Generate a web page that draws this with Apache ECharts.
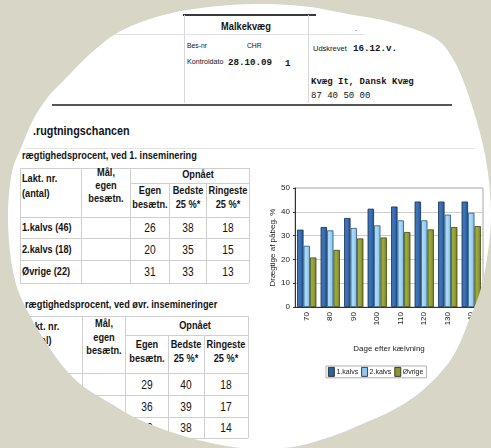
<!DOCTYPE html>
<html><head><meta charset="utf-8">
<script src="https://cdn.jsdelivr.net/npm/echarts@6/dist/echarts.min.js"></script>
<style>
html,body{margin:0;padding:0;width:491px;height:448px;overflow:hidden;background:#fff;}
#page{position:absolute;left:0;top:0;width:491px;height:448px;background:#fff;color:#141414;font-family:"Liberation Sans",Arial,sans-serif;filter:blur(0.3px);}
.t{position:absolute;white-space:nowrap;}
.ln{position:absolute;}
#chart{position:absolute;left:0;top:0;width:491px;height:448px;}
#mask{position:absolute;left:0;top:0;}
</style></head>
<body>
<div id="page">
  <div id="doc"></div>
  <div id="chart"></div>
  <svg id="mask" width="491" height="448"><path id="maskPath" fill="#d8d6c6" fill-rule="evenodd"/></svg>
</div>
<script>
// ---------- data ----------
const categories = ['70','80','90','100','110','120','130','140'];
const kalvs1 = [32.5,33.6,37.4,41.3,42.2,44.3,44.3,44.3];
const kalvs2 = [25.7,32.2,33.2,34.3,36.4,36.4,38.8,39.6];
const ovrige = [20.8,24.0,28.8,29.2,31.5,32.6,33.6,34.0];
const seriesNames = ['1.kalvs','2.kalvs','Øvrige'];
const yTicks = [0,10,20,30,40,50];

const t1Rows = ['1.kalvs (46)','2.kalvs (18)','Øvrige (22)'];
const t1Egen = [26,20,31];
const t1Bedste = [38,35,33];
const t1Ringeste = [18,15,13];

const t2Rows = ['1.kalvs','2.kalvs','Øvrige'];
const t2Egen = [29,36,40];
const t2Bedste = [40,39,38];
const t2Ringeste = [18,17,14];

// ---------- document (tables / header) ----------
const doc = document.getElementById('doc');
function txt(x, y, s, size, o){
  o = o || {};
  const k = o.sx || 1;
  const d = document.createElement('div');
  d.className = 't';
  d.textContent = s;
  d.style.fontSize = size + 'px';
  d.style.lineHeight = size + 'px';
  d.style.top = (y - size/2) + 'px';
  if (o.font) d.style.fontFamily = o.font;
  if (o.bold) d.style.fontWeight = 'bold';
  if (o.color) d.style.color = o.color;
  const a = o.align || 'left';
  if (a === 'left') { d.style.left = x + 'px'; d.style.transformOrigin='left center'; d.style.transform='scaleX('+k+')'; }
  else if (a === 'right') { d.style.right = (491 - x) + 'px'; d.style.transformOrigin='right center'; d.style.transform='scaleX('+k+')'; }
  else { d.style.left = x + 'px'; d.style.transformOrigin='center center'; d.style.transform = 'translateX(-50%) scaleX('+k+')'; }
  doc.appendChild(d);
}
function hline(x1, x2, y, w, c){
  const d = document.createElement('div'); d.className='ln';
  d.style.left=x1+'px'; d.style.width=(x2-x1)+'px'; d.style.top=(y-w/2)+'px'; d.style.height=w+'px'; d.style.background=c;
  doc.appendChild(d);
}
function vline(x, y1, y2, w, c){
  const d = document.createElement('div'); d.className='ln';
  d.style.left=(x-w/2)+'px'; d.style.width=w+'px'; d.style.top=y1+'px'; d.style.height=(y2-y1)+'px'; d.style.background=c;
  doc.appendChild(d);
}
const MONO = '"Liberation Mono","DejaVu Sans Mono",monospace';
const GRID = '#cfcfcf';
const NX = 0.8; // narrow-font squeeze

// header
hline(183, 316, 15, 2, '#3a3a3a');
vline(184, 15, 103, 1, '#d8d8d8');
vline(308, 15, 103, 1, '#d8d8d8');
hline(100, 365, 34, 1, '#e2e2e2');
txt(246, 26, 'Malkekvæg', 11, {bold:true, align:'center', sx:0.84});
txt(355, 29, '.', 8, {});
txt(187, 46, 'Bes-nr', 7.5, {sx:0.9});
txt(247, 46, 'CHR', 7.5, {sx:0.9});
txt(187, 62, 'Kontroldato', 7.5, {sx:0.95});
txt(228, 63, '28.10.09', 9.2, {font:MONO, bold:true});
txt(285, 64, '1', 9.2, {font:MONO, bold:true});
txt(313, 49, 'Udskrevet', 7.5, {});
txt(353, 49, '16.12.v.', 9.2, {font:MONO, bold:true});
txt(311, 82, 'Kvæg It, Dansk Kvæg', 9, {font:MONO, bold:true});
txt(311, 96, '87 40 50 00', 9, {font:MONO});
hline(52, 452, 105, 2.5, '#555');

// section title
txt(33, 131, '.rugtningschancen', 13.5, {bold:true, sx:NX});
hline(25, 475, 148, 1, '#e4e4e4');

function table(cfg){
  const c = cfg.cols, r = cfg.rows;
  const bot = r.lines[r.lines.length-1];
  hline(c[0], c[5], r.top, 1, GRID);
  hline(c[2], c[5], r.sub, 1, GRID);
  hline(c[0], c[5], r.head, 1, GRID);
  r.lines.forEach(y => hline(c[0], c[5], y, 1, GRID));
  vline(c[0], r.top, bot, 1, GRID);
  vline(c[1], r.top, bot, 1, GRID);
  vline(c[2], r.top, bot, 1, GRID);
  vline(c[3], r.sub, bot, 1, GRID);
  vline(c[4], r.sub, bot, 1, GRID);
  vline(c[5], r.top, bot, 1, GRID);
  const fs = 11.5;
  const H = {bold:true, sx:NX};
  txt(cfg.labelX, cfg.h.lakt1, 'Lakt. nr.', fs, H);
  txt(cfg.labelX, cfg.h.lakt2, '(antal)', fs, H);
  const m1 = (c[1]+c[2])/2;
  const HC = {bold:true, sx:NX, align:'center'};
  txt(m1, cfg.h.mal[0], 'Mål,', fs, HC);
  txt(m1, cfg.h.mal[1], 'egen', fs, HC);
  txt(m1, cfg.h.mal[2], 'besætn.', fs, HC);
  txt((c[2]+c[5])/2 + 8, cfg.h.opn, 'Opnået', fs, HC);
  txt((c[2]+c[3])/2, cfg.h.sub1, 'Egen', fs, HC);
  txt((c[2]+c[3])/2, cfg.h.sub2, 'besætn.', fs, HC);
  txt((c[3]+c[4])/2, cfg.h.sub1, 'Bedste', fs, HC);
  txt((c[3]+c[4])/2, cfg.h.sub2, '25 %*', fs, HC);
  txt((c[4]+c[5])/2, cfg.h.sub1, 'Ringeste', fs, HC);
  txt((c[4]+c[5])/2, cfg.h.sub2, '25 %*', fs, HC);
  cfg.labels.forEach((lab, i) => {
    const y = r.centers[i];
    txt(cfg.labelX, y, lab, fs, H);
    const N = {align:'center', sx:0.85};
    txt((c[2]+c[3])/2, y, String(cfg.egen[i]), fs+0.5, N);
    txt((c[3]+c[4])/2, y, String(cfg.bedste[i]), fs+0.5, N);
    txt((c[4]+c[5])/2, y, String(cfg.ringeste[i]), fs+0.5, N);
  });
}

txt(22, 156, 'rægtighedsprocent, ved 1. inseminering', 11.5, {bold:true, sx:NX});
table({
  cols:[20, 81, 130, 169, 206, 249],
  rows:{top:168, sub:183, head:217, lines:[238, 260, 283], centers:[228, 250, 272]},
  h:{lakt1:179, lakt2:194, mal:[173,186,199], opn:175, sub1:191, sub2:205},
  labelX:22, labels:t1Rows, egen:t1Egen, bedste:t1Bedste, ringeste:t1Ringeste
});

txt(25, 305, 'rægtighedsprocent, ved øvr. insemineringer', 11.5, {bold:true, sx:NX});
table({
  cols:[22, 82, 125, 168, 204, 248],
  rows:{top:316, sub:335, head:373, lines:[395, 417, 438], centers:[385, 407, 428]},
  h:{lakt1:327, lakt2:341, mal:[324,338,351], opn:326, sub1:345, sub2:359},
  labelX:24, labels:t2Rows, egen:t2Egen, bedste:t2Bedste, ringeste:t2Ringeste
});

// ---------- chart ----------
const chart = echarts.init(document.getElementById('chart'), null, {renderer:'canvas'});
function grad(a, b){
  return new echarts.graphic.LinearGradient(0,0,1,0,[{offset:0,color:a},{offset:0.45,color:a},{offset:1,color:b}]);
}
const styles = [
  {fill: grad('#3b73b8','#24528f'), border:'#18304f', legend:'#2d62a3'},
  {fill: grad('#a6d8f8','#7cb9e6'), border:'#2f5678', legend:'#8ec8f0'},
  {fill: grad('#9aa83a','#75822a'), border:'#3f4715', legend:'#8c982f'}
];
const values = [kalvs1, kalvs2, ovrige];
const FONT = '"Liberation Sans", Arial, sans-serif';
chart.setOption({
  animation:false,
  textStyle:{fontFamily:FONT},
  grid:{left:295, top:188, width:188, height:119, show:true, borderColor:'#a8a8a8', borderWidth:1, backgroundColor:'rgba(0,0,0,0)'},
  legend:{
    left:326, top:366, orient:'horizontal', itemWidth:6, itemHeight:9, itemGap:3,
    borderColor:'#b0b0b0', borderWidth:1, padding:[1,3,1,2], borderRadius:0,
    icon:'rect',
    textStyle:{fontSize:7, color:'#222', fontFamily:FONT, padding:[0,0,0,-3]},
    data: seriesNames.map((n,i)=>({name:n, itemStyle:{color:styles[i].legend, borderColor:'#1a1a1a', borderWidth:0.8}}))
  },
  xAxis:{
    type:'category', data:categories,
    axisLine:{lineStyle:{color:'#333', width:1}},
    axisTick:{show:false},
    axisLabel:{rotate:90, fontSize:8, color:'#222', margin:5, fontFamily:FONT},
    name:'Dage efter kælvning', nameLocation:'middle', nameGap:38,
    nameTextStyle:{fontSize:8, color:'#222', fontFamily:FONT}
  },
  yAxis:{
    type:'value', min:yTicks[0], max:yTicks[yTicks.length-1], interval:10,
    axisLine:{show:true, lineStyle:{color:'#333', width:1}},
    axisTick:{show:true, length:2, lineStyle:{color:'#333'}},
    splitLine:{show:true, lineStyle:{color:'#cdcdcd', width:1}},
    axisLabel:{fontSize:8, color:'#222', margin:5, fontFamily:FONT},
    name:'Drægtige af påbeg. %', nameLocation:'middle', nameGap:17,
    nameTextStyle:{fontSize:8, color:'#222', fontFamily:FONT}
  },
  series: seriesNames.map((n,i)=>({
    name:n, type:'bar', data:values[i], barGap:'0%', barCategoryGap:'18%',
    itemStyle:{color:styles[i].fill, borderColor:styles[i].border, borderWidth:0.8}
  }))
});

// ---------- photo vignette (page outline) ----------
const outline = [
  [187,10],[230,5],[270,4],[310,7],[343,13],[390,22],[433,37],[452,57],[466,88],[480,133],[488,173],
  [491,215],[488,252],[481,288],[470,318],[452,358],[423,390],[393,410],[360,425],[330,437],[298,446],[265,449],
  [233,447],[187,437],[140,420],[110,403],[84,387],[66,370],[51,350],[37,328],[25,306],[16,284],[10,252],[8,212],
  [12,172],[21,148],[33,120],[48,97],[67,77],[90,54],[117,33],[150,19]
];
function smooth(P){
  const n = P.length;
  let d = 'M' + P[0][0] + ' ' + P[0][1];
  for (let i=0;i<n;i++){
    const p0=P[(i-1+n)%n], p1=P[i], p2=P[(i+1)%n], p3=P[(i+2)%n];
    const c1=[p1[0]+(p2[0]-p0[0])/6, p1[1]+(p2[1]-p0[1])/6];
    const c2=[p2[0]-(p3[0]-p1[0])/6, p2[1]-(p3[1]-p1[1])/6];
    d += ' C'+c1[0].toFixed(1)+' '+c1[1].toFixed(1)+' '+c2[0].toFixed(1)+' '+c2[1].toFixed(1)+' '+p2[0]+' '+p2[1];
  }
  return d + ' Z';
}
document.getElementById('maskPath').setAttribute('d', 'M0 0 H491 V448 H0 Z ' + smooth(outline));
</script>
</body></html>
